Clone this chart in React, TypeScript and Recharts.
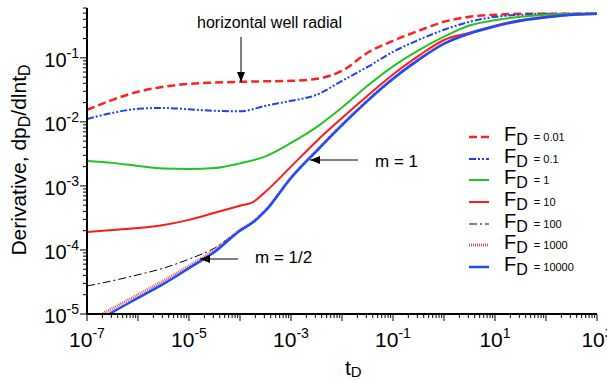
import { LineChart, Line, XAxis, YAxis, Legend } from 'recharts';

// dimensionless time grid (shared by every curve)
const tD = [1e-7, 3.16e-7, 1e-6, 3.16e-6, 1e-5, 3.16e-5, 1e-4, 1.8e-4, 3.16e-4, 1e-3, 3.16e-3, 1e-2, 3.16e-2, 1e-1, 3.16e-1, 1, 3.16, 10, 31.6, 100, 316, 1000];

// derivative dpD/dlntD for each fracture conductivity FD (null = no reading at that time)
const fd0_01 = [0.0154, 0.0221, 0.0295, 0.0353, 0.0393, 0.041, 0.0422, null, 0.043, 0.0437, 0.047, 0.0626, 0.12, 0.184, 0.264, 0.365, 0.437, 0.47, 0.487, 0.49, 0.49, 0.49];
const fd0_1 = [0.0111, 0.0138, 0.016, 0.0165, 0.0157, 0.0149, 0.0146, null, 0.0178, 0.0213, 0.0264, 0.0437, 0.072, 0.124, 0.19, 0.274, 0.365, 0.437, 0.47, 0.487, 0.49, 0.49];
const fd1 = [0.00246, 0.00229, 0.00205, 0.00187, 0.00184, 0.0019, 0.00225, null, 0.0029, 0.0047, 0.0083, 0.0168, 0.0366, 0.0736, 0.131, 0.214, 0.32, 0.385, 0.437, 0.47, 0.487, 0.49];
const fd10 = [1.9e-4, 2.05e-4, 2.2e-4, 2.45e-4, 2.95e-4, 3.8e-4, 4.9e-4, 5.6e-4, 8.1e-4, 0.002, 0.005, 0.0115, 0.0256, 0.055, 0.107, 0.19, 0.246, 0.316, 0.385, 0.437, 0.47, 0.487];
const fd100 = [2.74e-5, 3.3e-5, 4.1e-5, 5.2e-5, 7.2e-5, 1.07e-4, 2.05e-4, 2.75e-4, 4.15e-4, 1.35e-3, 3.55e-3, 9.0e-3, 0.0215, 0.0475, 0.094, 0.167, 0.242, 0.312, 0.382, 0.432, 0.472, 0.487];
const fd1000 = [7.5e-6, 1.22e-5, 2.0e-5, 3.3e-5, 5.6e-5, 1.0e-4, 2.05e-4, 2.75e-4, 4.15e-4, 1.35e-3, 3.55e-3, 9.0e-3, 0.0215, 0.0475, 0.094, 0.167, 0.242, 0.312, 0.382, 0.432, 0.472, 0.487];
const fd10000 = [6.2e-6, 1.07e-5, 1.78e-5, 2.95e-5, 5.2e-5, 9.3e-5, 2.0e-4, 2.7e-4, 4.1e-4, 1.33e-3, 3.5e-3, 8.9e-3, 0.0213, 0.047, 0.093, 0.166, 0.24, 0.31, 0.38, 0.43, 0.47, 0.487];

const xDecades = [-7, -6, -5, -4, -3, -2, -1, 0, 1, 2, 3];
const xLabelExps = [-7, -5, -3, -1, 1, 3];
const yDecades = [-5, -4, -3, -2, -1];
const yTopMinors = [0.2, 0.3, 0.4, 0.5, 0.6];

const FONT = '"Liberation Sans", Arial, sans-serif';

const series = [
  { key: 'fd0_01', label: '0.01', values: fd0_01, color: '#ff2020', width: 2.5, dash: '8 4' },
  { key: 'fd0_1', label: '0.1', values: fd0_1, color: '#2040e8', width: 2, dash: '7 2 2 2 2 2' },
  { key: 'fd1', label: '1', values: fd1, color: '#22c422', width: 2, dash: undefined },
  { key: 'fd10', label: '10', values: fd10, color: '#ff1a1a', width: 2, dash: undefined },
  { key: 'fd100', label: '100', values: fd100, color: '#000000', width: 1, dash: '8 3 2 3' },
  { key: 'fd1000', label: '1000', values: fd1000, color: '#e05050', width: 3, dash: '1 1' },
  { key: 'fd10000', label: '10000', values: fd10000, color: '#1a4cff', width: 2.5, dash: undefined },
];

const rows = tD.map((t, i) => {
  const r: any = { t };
  series.forEach((s) => { r[s.key] = s.values[i]; });
  return r;
});

const xTicks: number[] = [];
xDecades.forEach((e) => {
  xTicks.push(Math.pow(10, e));
  if (e < 3) for (let m = 2; m <= 9; m++) xTicks.push(m * Math.pow(10, e));
});
const yTicks: number[] = [];
yDecades.forEach((e) => {
  yTicks.push(Math.pow(10, e));
  if (e < -1) for (let m = 2; m <= 9; m++) yTicks.push(m * Math.pow(10, e));
});
yTopMinors.forEach((v) => yTicks.push(v));

const isMajor = (v: number) => {
  const e = Math.log10(v);
  return Math.abs(e - Math.round(e)) < 1e-6;
};

const XTick = ({ x, y, payload }: any) => {
  const v = payload.value;
  const major = isMajor(v);
  const exp = Math.round(Math.log10(v));
  return (
    <g>
      <line x1={x} x2={x} y1={y} y2={y + (major ? 7 : 4)} stroke="#000" strokeWidth={1} />
      {major && xLabelExps.includes(exp) && (
        <text x={x} y={y + 33} textAnchor="middle" fontFamily={FONT} fontSize={21} fill="#000">
          10<tspan dy={-9} fontSize={14}>{exp}</tspan>
        </text>
      )}
    </g>
  );
};

const YTick = ({ x, y, payload }: any) => {
  const v = payload.value;
  const major = isMajor(v);
  const exp = Math.round(Math.log10(v));
  return (
    <g>
      <line x1={x} x2={x - (major ? 7 : 4)} y1={y} y2={y} stroke="#000" strokeWidth={1} />
      {major && (
        <text x={x - 8} y={y + 9} textAnchor="end" fontFamily={FONT} fontSize={20} fill="#000">
          10<tspan dy={-9} fontSize={14}>{exp}</tspan>
        </text>
      )}
    </g>
  );
};

const renderLegend = () => (
  <div style={{ fontFamily: FONT, color: '#000' }}>
    {series.map((s) => (
      <div key={s.key} style={{ display: 'flex', alignItems: 'center', height: 21.7 }}>
        <svg width={22} height={8}>
          <line x1={1} x2={21} y1={4} y2={4} stroke={s.color} strokeWidth={s.width} strokeDasharray={s.dash} />
        </svg>
        <span style={{ marginLeft: 14, fontSize: 20, lineHeight: '19px' }}>
          F<sub style={{ fontSize: 16, verticalAlign: '-4px' }}>D</sub>
        </span>
        <span style={{ marginLeft: 6, fontSize: 11 }}>= {s.label}</span>
      </div>
    ))}
  </div>
);

export default function App() {
  return (
    <div style={{ position: 'absolute', left: 0, top: 0, width: 607, height: 380, background: '#fff' }}>
      <LineChart width={607} height={380} data={rows} margin={{ top: 8, right: 10, bottom: 36, left: 27 }}>
        <XAxis
          dataKey="t"
          type="number"
          scale="log"
          domain={[1e-7, 1e3]}
          ticks={xTicks}
          interval={0}
          allowDataOverflow
          tick={<XTick />}
          tickLine={false}
          tickSize={0}
          tickMargin={0}
          height={30}
          axisLine={{ stroke: '#000', strokeWidth: 2 }}
        />
        <YAxis
          type="number"
          scale="log"
          domain={[1e-5, 0.6]}
          ticks={yTicks}
          interval={0}
          allowDataOverflow
          tick={<YTick />}
          tickLine={false}
          tickSize={0}
          tickMargin={0}
          width={60}
          axisLine={{ stroke: '#000', strokeWidth: 2 }}
        />
        <Legend
          content={renderLegend}
          layout="vertical"
          align="center"
          verticalAlign="middle"
          wrapperStyle={{ left: 468, top: 126, width: 135 }}
        />
        {series.map((s) => (
          <Line
            key={s.key}
            dataKey={s.key}
            type="monotone"
            connectNulls
            stroke={s.color}
            strokeWidth={s.width}
            strokeDasharray={s.dash}
            dot={false}
            activeDot={false}
            isAnimationActive={false}
          />
        ))}
      </LineChart>
      <svg width={607} height={380} style={{ position: 'absolute', left: 0, top: 0, pointerEvents: 'none' }} fontFamily={FONT}>
        <defs>
          <marker id="ah" markerWidth={10} markerHeight={8} refX={10} refY={4} orient="auto" markerUnits="userSpaceOnUse">
            <path d="M0,0 L10,4 L0,8 z" fill="#000" />
          </marker>
        </defs>
        <text x={26} y={160} transform="rotate(-90 26 160)" textAnchor="middle" fontSize={21} fill="#000">
          Derivative, dp<tspan dy={4} fontSize={16}>D</tspan><tspan dy={-4}>/dlnt</tspan><tspan dy={4} fontSize={16}>D</tspan>
        </text>
        <text x={345} y={375} fontSize={21} fill="#000">
          t<tspan dy={2} fontSize={15}>D</tspan>
        </text>
        <text x={197} y={28} fontSize={16} fill="#000">horizontal well radial</text>
        <line x1={241} y1={37} x2={241} y2={82} stroke="#000" strokeWidth={1} markerEnd="url(#ah)" />
        <text x={375} y={167} fontSize={17} fill="#000">m = 1</text>
        <line x1={358} y1={160} x2={310} y2={160} stroke="#000" strokeWidth={1} markerEnd="url(#ah)" />
        <text x={255} y={263} fontSize={17} fill="#000">m = 1/2</text>
        <line x1={238} y1={259} x2={200} y2={259} stroke="#000" strokeWidth={1} markerEnd="url(#ah)" />
      </svg>
    </div>
  );
}
